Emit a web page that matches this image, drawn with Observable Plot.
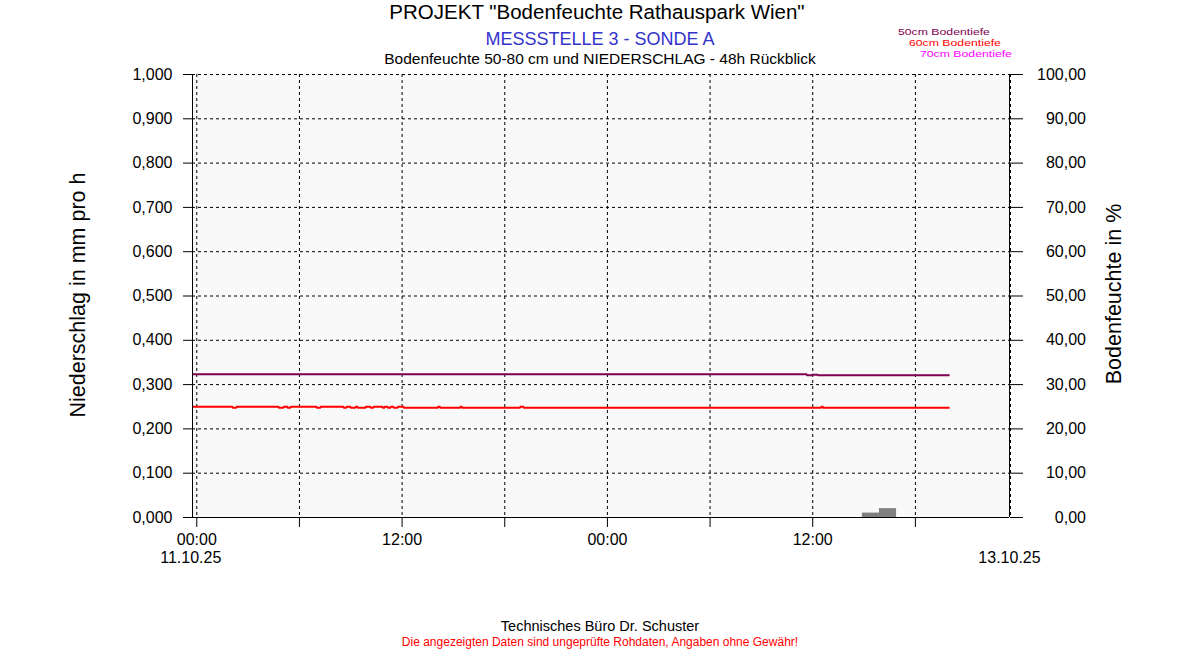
<!DOCTYPE html>
<html>
<head>
<meta charset="utf-8">
<script src="https://cdn.jsdelivr.net/npm/d3@7"></script>
<script src="https://cdn.jsdelivr.net/npm/@observablehq/plot@0.6"></script>
<style>
  html, body { margin: 0; padding: 0; background: #fff; }
  #wrap { position: relative; width: 1200px; height: 650px; font-family: "Liberation Sans", Arial, sans-serif; overflow: hidden; }
  #wrap svg { position: absolute; left: 0; top: 0; }
  .t { position: absolute; line-height: 1; white-space: nowrap; }
  .c { left: 0; width: 1200px; text-align: center; }
  .rot { transform: translate(-50%, -50%) rotate(-90deg); }
  .lg { transform-origin: left center; transform: scaleX(1.25); }
</style>
</head>
<body>
<div id="wrap">
  <div class="t c" style="top:1.6px;font-size:20.5px;color:#000;margin-left:-3px;">PROJEKT "Bodenfeuchte Rathauspark Wien"</div>
  <div class="t c" style="top:29.8px;font-size:18px;color:#3333cc;">MESSSTELLE 3 - SONDE A</div>
  <div class="t c" style="top:50.9px;font-size:15.5px;color:#000;">Bodenfeuchte 50-80 cm und NIEDERSCHLAG - 48h Rückblick</div>
  <div id="legend"></div>
  <div class="t rot" style="left:78.5px;top:295px;font-size:21.5px;color:#000;">Niederschlag in mm pro h</div>
  <div class="t rot" style="left:1114.5px;top:293.5px;font-size:21.5px;color:#000;">Bodenfeuchte in %</div>
  <div class="t c" style="top:618.7px;font-size:14.5px;color:#000;">Technisches Büro Dr. Schuster</div>
  <div class="t c" style="top:635.5px;font-size:12px;color:#ff0000;">Die angezeigten Daten sind ungeprüfte Rohdaten, Angaben ohne Gewähr!</div>
</div>
<script>
// ---- data (hours relative to 11.10.25 00:00) ----
const startDay = "2025-10-11T00:00:00Z";
const domainHours = [-0.25, 47.5];

const legendLabels = ["50cm Bodentiefe", "60cm Bodentiefe", "70cm Bodentiefe"];
const legendColors = ["#800050", "#ff0000", "#ff00ff"];

// 50cm soil moisture (%), step series
const soil50Hours  = [-0.25, 35.65, 35.95, 36.3, 44.0];
const soil50Values = [32.35, 32.1, 32.2, 32.1, 32.1];

// 60cm soil moisture (%), step series
const soil60Hours  = [-0.25, 2.09, 2.32, 4.78, 5.07, 5.3, 5.48, 7.0, 7.23, 8.58, 8.75, 8.99, 9.28, 9.4, 9.87, 10.16, 10.33, 10.86, 10.98, 11.16, 11.33, 11.5, 11.74, 12.09, 14.1, 14.22, 15.4, 15.5, 18.9, 19.1, 36.5, 36.6, 44.0];
const soil60Values = [25.0, 24.75, 25.0, 24.75, 25.0, 24.75, 25.0, 24.75, 25.0, 24.75, 25.0, 24.75, 25.0, 24.75, 25.0, 24.75, 25.0, 24.75, 25.0, 24.75, 25.0, 24.75, 25.0, 24.75, 25.0, 24.75, 25.0, 24.75, 25.0, 24.75, 25.0, 24.75, 24.75];

// precipitation (mm per h), hourly bars
const rainStartHours = [38.9, 39.9];
const rainValues     = [0.01, 0.02];

// ticks
const precipTicks = [0, 0.1, 0.2, 0.3, 0.4, 0.5, 0.6, 0.7, 0.8, 0.9, 1.0];
const precipTickLabels = ["0,000","0,100","0,200","0,300","0,400","0,500","0,600","0,700","0,800","0,900","1,000"];
const moistTickLabels  = ["0,00","10,00","20,00","30,00","40,00","50,00","60,00","70,00","80,00","90,00","100,00"];
const timeTickHours  = [0, 6, 12, 18, 24, 30, 36, 42];
const timeTickLabels = ["00:00", "", "12:00", "", "00:00", "", "12:00", ""];
const startDateLabel = "11.10.25";
const endDateLabel = "13.10.25";

// ---- helpers ----
const t0 = new Date(startDay).getTime();
const at = h => new Date(t0 + h * 3600e3);

const soil50 = soil50Hours.map((h, i) => ({t: at(h), v: soil50Values[i]}));
const soil60 = soil60Hours.map((h, i) => ({t: at(h), v: soil60Values[i]}));
const rain = rainStartHours.map((h, i) => ({t1: at(h), t2: at(h + 1), v: rainValues[i]}));
const timeTicks = timeTickHours.map(at);
const timeLabelMap = new Map(timeTicks.map((d, i) => [+d, timeTickLabels[i]]));
const leftLabelMap = new Map(precipTicks.map((d, i) => [Math.round(d * 10), precipTickLabels[i]]));
const rightLabelMap = new Map(precipTicks.map((d, i) => [Math.round(d * 10), moistTickLabels[i]]));
const xDomain = domainHours.map(at);

// legend
const legend = document.getElementById("legend");
legendLabels.forEach((txt, i) => {
  const d = document.createElement("div");
  d.className = "t lg";
  d.style.cssText = `left:${898 + i * 11}px;top:${26.7 + i * 11}px;font-size:9.8px;color:${legendColors[i]};`;
  d.textContent = txt;
  legend.appendChild(d);
});

const dash = "3,3";
const chart = Plot.plot({
  width: 1200,
  height: 650,
  marginLeft: 192,
  marginRight: 191,
  marginTop: 74,
  marginBottom: 133,
  style: {fontFamily: "'Liberation Sans', Arial, sans-serif", fontSize: "16px", background: "transparent", color: "#000", overflow: "visible"},
  x: {type: "utc", domain: xDomain, axis: null},
  y: {domain: [0, 1], axis: null},
  marks: [
    Plot.frame({fill: "#f9f9f9"}),
    Plot.gridY(precipTicks, {stroke: "#000", strokeOpacity: 1, strokeDasharray: dash}),
    Plot.gridX(timeTicks, {stroke: "#000", strokeOpacity: 1, strokeDasharray: dash}),
    Plot.rectY(rain, {x1: "t1", x2: "t2", y1: 0, y2: "v", fill: "#808080"}),
    Plot.line(soil60, {x: "t", y: d => d.v / 100, stroke: legendColors[1], strokeWidth: 2, curve: "step-after", strokeLinecap: "butt", strokeLinejoin: "miter"}),
    Plot.line(soil50, {x: "t", y: d => d.v / 100, stroke: legendColors[0], strokeWidth: 2, curve: "step-after", strokeLinecap: "butt", strokeLinejoin: "miter"}),
    Plot.ruleY([0], {stroke: "#000"}),
    Plot.ruleX([xDomain[0]], {stroke: "#000"}),
    Plot.ruleX([xDomain[1]], {stroke: "#000"}),
    Plot.ruleX([xDomain[1]], {stroke: "#000", strokeDasharray: dash, dx: 1}),
    Plot.axisY(precipTicks, {anchor: "left", tickSize: 9, tickPadding: 11, fontSize: 16, tickFormat: d => leftLabelMap.get(Math.round(d * 10)), label: null}),
    Plot.axisY(precipTicks, {anchor: "right", tickSize: 13, tickPadding: 63.5, textAnchor: "end", fontSize: 16, tickFormat: d => rightLabelMap.get(Math.round(d * 10)), label: null}),
    Plot.axisX(timeTicks, {anchor: "bottom", tickSize: 10, tickPadding: 6, fontSize: 16, tickFormat: d => timeLabelMap.get(+d), label: null}),
    Plot.text([at(0)], {x: d => d, frameAnchor: "bottom", lineAnchor: "bottom", dy: 45, dx: -6, text: () => startDateLabel, fontSize: 16}),
    Plot.text([xDomain[1]], {x: d => d, frameAnchor: "bottom", lineAnchor: "bottom", dy: 45, text: () => endDateLabel, fontSize: 16})
  ]
});
document.getElementById("wrap").prepend(chart);
</script>
</body>
</html>
